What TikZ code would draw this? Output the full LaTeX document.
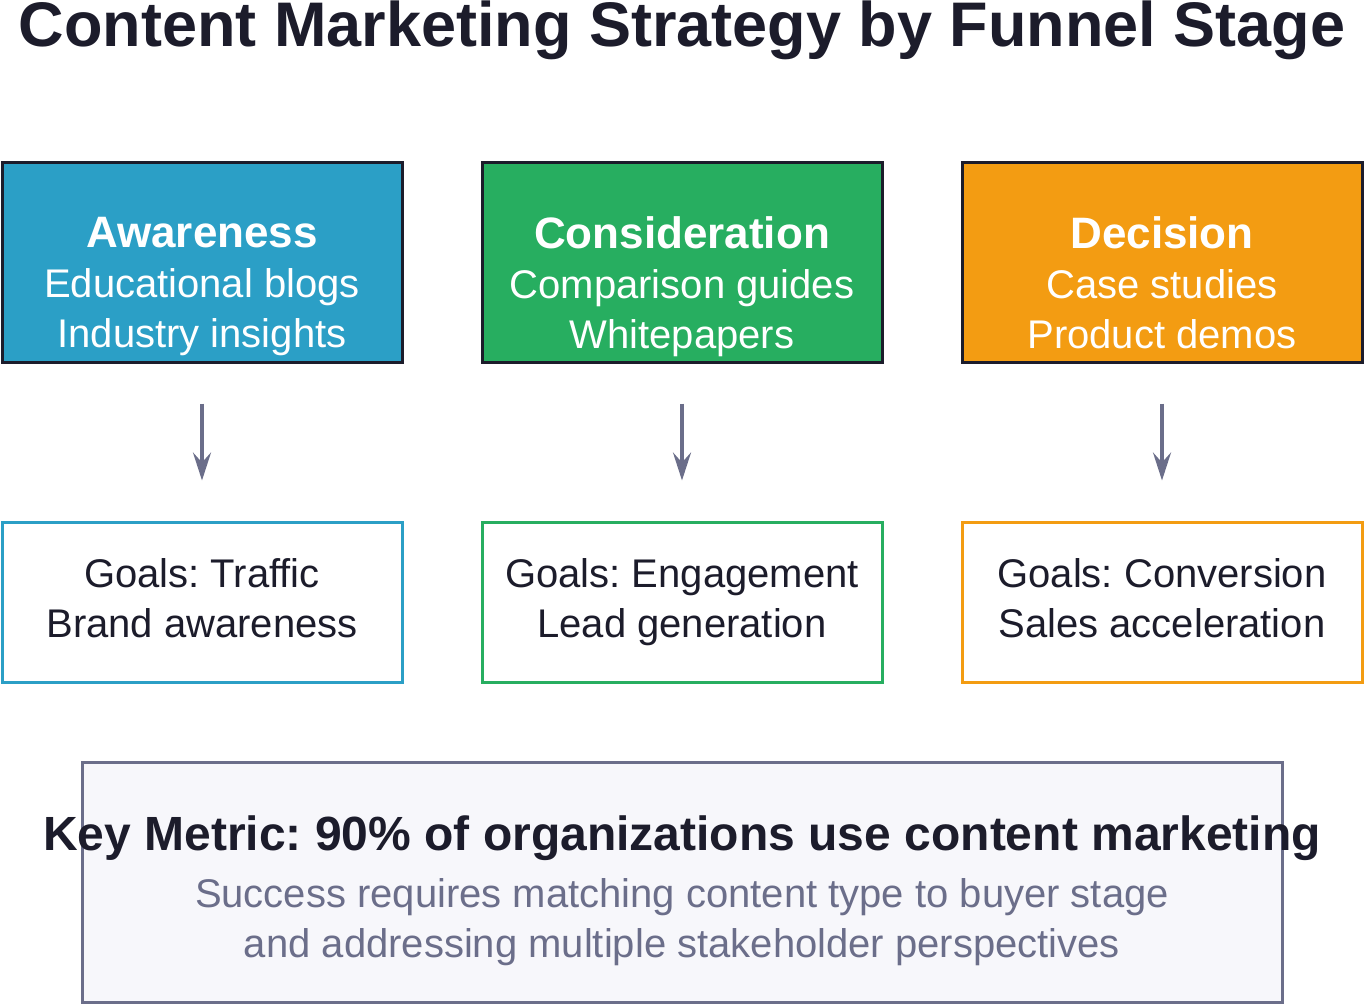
\documentclass[tikz,border=0pt]{standalone}
\usepackage{fontspec}
\setmainfont{Liberation Sans}
\frenchspacing
\usetikzlibrary{arrows}
\usetikzlibrary{arrows.meta}
\usetikzlibrary{positioning}
\definecolor{awblue}{HTML}{2B9FC6}
\definecolor{cogreen}{HTML}{27AE60}
\definecolor{deorange}{HTML}{F39C12}
\definecolor{inkdark}{HTML}{1C1C2B}
\definecolor{slate}{HTML}{6B6E8A}
\definecolor{paleback}{HTML}{F7F7FB}
\tikzset{
  x = 1pt, y = -1pt,
  stage/.style = {draw = inkdark, line width = 3pt, minimum width = 400pt, minimum height = 200pt},
  stagetext/.style = {text = white, align = center, font = \fontsize{40}{50}\selectfont, execute at begin node = \strut, execute at end node = \strut},
  goal/.style = {line width = 3pt, fill = white, minimum width = 400pt, minimum height = 160pt, text = inkdark, align = center, font = \fontsize{40}{50}\selectfont},
  goaltext/.style = {text = inkdark, align = center, font = \fontsize{40}{50}\selectfont, execute at begin node = \strut, execute at end node = \strut},
  flow/.style = {-{Stealth[length = 28pt, width = 18pt, inset = 10pt]}, slate, line width = 3.5pt},
}
\begin{document}
\begin{tikzpicture}
  \useasboundingbox (0,0) rectangle (1364,1004);
  % title
  \node [font = \bfseries\fontsize{63}{64}\selectfont, text = inkdark] (title) at (682,30) {Content Marketing Strategy by Funnel Stage};
  % stages
  \node [stage, fill = awblue] (aw) at (202,262) {};
  \node [stage, fill = cogreen] (co) at (682,262) {};
  \node [stage, fill = deorange] (de) at (1162,262) {};
  \node [stagetext] (awtext) at (202,290) {\textbf{\fontsize{44}{50}\selectfont Awareness}\\Educational blogs\\Industry insights};
  \node [stagetext] (cotext) at (682,290) {\textbf{\fontsize{44}{50}\selectfont Consideration}\\Comparison guides\\Whitepapers};
  \node [stagetext] (detext) at (1162,290) {\textbf{\fontsize{44}{50}\selectfont Decision}\\Case studies\\Product demos};
  % goals
  \node [goal, draw = awblue] (awgoal) at (202,602) {};
  \node [goal, draw = cogreen] (cogoal) at (682,602) {};
  \node [goal, draw = deorange] (degoal) at (1162,602) {};
  \node [goaltext] (awgoaltext) at (202,605) {Goals: Traffic\\Brand awareness};
  \node [goaltext] (cogoaltext) at (682,605) {Goals: Engagement\\Lead generation};
  \node [goaltext] (degoaltext) at (1162,605) {Goals: Conversion\\Sales acceleration};
  % edges
  \foreach \s/\g in {aw/awgoal, co/cogoal, de/degoal}
    \draw [flow, shorten <= 40pt, shorten >= 40pt] (\s) -- (\g);
  % key metric
  \node [draw = slate, fill = paleback, line width = 3pt, minimum width = 1200pt, minimum height = 240pt] (metric) at (682,882) {};
  \node [font = \bfseries\fontsize{48}{50}\selectfont, text = inkdark] (keyline) at (682,838) {Key Metric: 90\% of organizations use content marketing};
  \node [goaltext, text = slate] (note) at (682,925) {Success requires matching content type to buyer stage\\and addressing multiple stakeholder perspectives};
\end{tikzpicture}
\end{document}
